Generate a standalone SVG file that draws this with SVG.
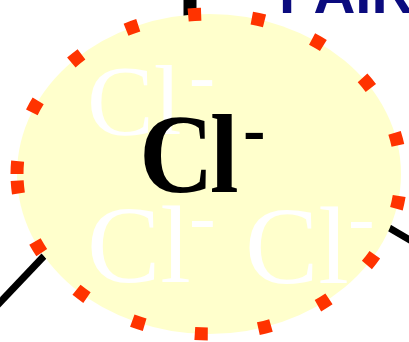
<svg xmlns="http://www.w3.org/2000/svg" width="409" height="342" viewBox="0 0 409 342">
<style>
.conn{stroke:#000;stroke-width:7;fill:none}
.ion{font-family:"Liberation Serif","Times New Roman",serif}
.ghost{fill:#fff;font-weight:normal}
.main{fill:#000;font-weight:bold}
.title{font-family:"Liberation Sans",Arial,sans-serif;font-weight:bold;fill:#0b0b7e}
</style>
<rect width="409" height="342" fill="#fff"/>
<g id="connectors">
<line class="conn" x1="190" y1="-2" x2="190" y2="16" style="stroke-width:13"/>
<line class="conn" x1="44" y1="256" x2="-10" y2="313"/>
<line class="conn" x1="386" y1="226" x2="415" y2="243"/>
</g>
<g id="title">
<text class="title" x="279" y="13" font-size="58">PAIR</text>
</g>
<g id="cl-node">
<ellipse cx="209" cy="174" rx="192" ry="160" fill="#ffffcc"/>
<path d="M17,174 A192,160 0 0 1 401,174 A192,160 0 0 1 17,174" fill="none" stroke="#ff3300" stroke-width="13" stroke-dasharray="13 51" stroke-dashoffset="0"/>
<text class="ion ghost" x="87" y="134" font-size="100">Cl<tspan x="189" y="102" font-size="78">-</tspan></text>
<text class="ion ghost" x="87" y="282" font-size="110">Cl<tspan x="189" y="243" font-size="80">-</tspan></text>
<text class="ion ghost" x="245" y="283" font-size="110">Cl<tspan x="348" y="244" font-size="80">-</tspan></text>
<text class="ion main" transform="translate(143,192) scale(0.92,1)" x="-4" y="0" font-size="112" letter-spacing="-4">Cl<tspan x="109" y="-39" font-size="72" letter-spacing="0">-</tspan></text>
</g>
</svg>
